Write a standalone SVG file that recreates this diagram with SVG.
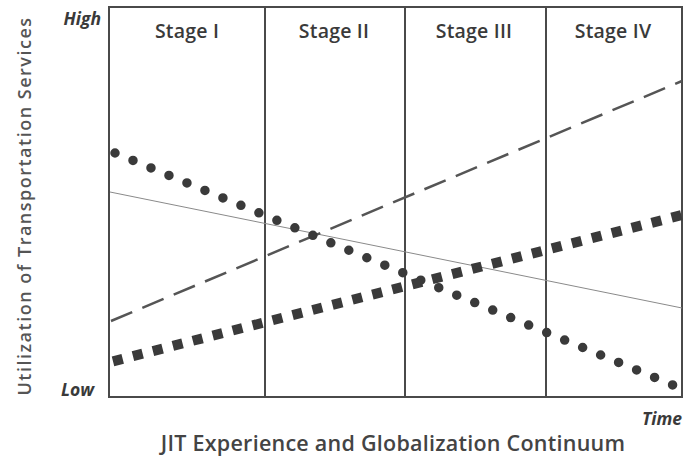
<svg xmlns="http://www.w3.org/2000/svg" width="683" height="467" viewBox="0 0 683 467">
<style>
.frame{fill:none;stroke:#4a4a4a;stroke-width:2}
.div{stroke:#4a4a4a;stroke-width:2}
.stage{font-family:"Open Sans","Liberation Sans",sans-serif;font-weight:600;font-size:19.5px;fill:#3a3a3a;text-anchor:middle;letter-spacing:0.2px}
.axis{font-family:"Open Sans","Liberation Sans",sans-serif;font-weight:700;font-style:italic;font-size:17.5px;fill:#3a3a3a}
.ylab{font-family:"Open Sans","Liberation Sans",sans-serif;font-weight:600;font-size:18px;fill:#555;letter-spacing:1.5px}
.xlab{font-family:"Open Sans","Liberation Sans",sans-serif;font-weight:600;font-size:21.5px;fill:#444;text-anchor:middle;letter-spacing:0.25px}
</style>
<rect width="683" height="467" fill="#fff"/>
<g id="frame">
<rect class="frame" x="109" y="7" width="573" height="390"/>
<line class="div" x1="265" y1="7" x2="265" y2="397"/>
<line class="div" x1="405" y1="7" x2="405" y2="397"/>
<line class="div" x1="546" y1="7" x2="546" y2="397"/>
</g>
<g id="stage1"><text class="stage" x="187" y="38">Stage I</text></g>
<g id="stage2"><text class="stage" x="334" y="38">Stage II</text></g>
<g id="stage3"><text class="stage" x="474" y="38">Stage III</text></g>
<g id="stage4"><text class="stage" x="613" y="38">Stage IV</text></g>
<g id="labels">
<text class="axis" x="101" y="25" text-anchor="end">High</text>
<text class="axis" x="94" y="396" text-anchor="end">Low</text>
<text class="axis" x="682" y="425" text-anchor="end">Time</text>
<text class="xlab" x="393" y="451">JIT Experience and Globalization Continuum</text>
<text class="ylab" transform="translate(31,206) rotate(-90)" text-anchor="middle">Utilization of Transportation Services</text>
</g>
<g id="connectors" fill="none">
<line x1="110" y1="192" x2="682" y2="308" stroke="#8a8a8a" stroke-width="1"/>
<line x1="111" y1="321" x2="682" y2="81" stroke="#555" stroke-width="2.5" stroke-dasharray="23 11"/>
<line x1="115" y1="153" x2="680" y2="388" stroke="#3a3a3a" stroke-width="9.5" stroke-linecap="round" stroke-dasharray="0 19.48"/>
<line x1="113" y1="361.3" x2="682" y2="215" stroke="#3a3a3a" stroke-width="10" stroke-dasharray="10 10.6"/>
</g>
</svg>
